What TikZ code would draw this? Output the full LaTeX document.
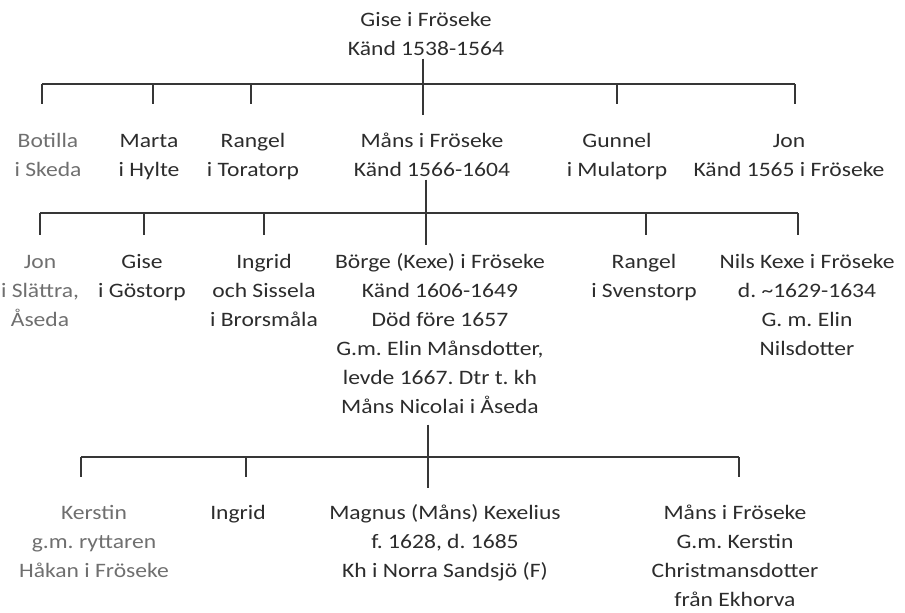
\documentclass[tikz,border=0pt]{standalone}
\usepackage{fontspec}
\setmainfont{Carlito}[FakeStretch=1.15]
\definecolor{ink}{HTML}{2C2C2C}
\definecolor{treeline}{HTML}{363636}
\begin{document}
\begin{tikzpicture}[x=1pt,y=-1pt]
	\tikzstyle{person} = [anchor=north, inner sep=0pt, align=center, font=\fontsize{20.5}{29}\selectfont\frenchspacing]
	\tikzstyle{inkfull} = [text=ink]
	\tikzstyle{inkdim}  = [text=ink!68]
	\tikzstyle{tree}    = [draw=treeline, line width=1.5pt]

	\useasboundingbox (0,0) rectangle (905,613);

	% Gise and his children
	\node[person, inkfull] (gise) at (426,5.7) {\strut Gise i Fröseke\\Känd 1538-1564};

	\foreach \name/\x/\dx/\sty/\txt in {botilla/48/42/inkdim/{Botilla\\i Skeda}, marta/149/153/inkfull/{Marta\\i Hylte}, rangel/253/251/inkfull/{Rangel\\i Toratorp}, gunnel/617/617/inkfull/{Gunnel\\i Mulatorp}, jon/789/795/inkfull/{Jon\\Känd 1565 i Fröseke}}
	{
		\node[person, \sty] (\name) at (\x,126.7) {\strut\txt};
		\coordinate (\name-top) at (\dx,84);
		\draw[tree, shorten >=22.7pt] (\name-top) -- (\name-top |- \name.north);
	}

	\node[person, inkfull] (mans) at (432,126.7) {\strut Måns i Fröseke\\Känd 1566-1604};
	\coordinate (mans-top) at (423,84);
	\draw[tree, shorten <=3pt, shorten >=11.7pt] (mans-top |- gise.south) -- (mans-top |- mans.north);
	\draw[tree] (botilla-top) -- (jon-top);

	% Måns and his children
	\foreach \name/\x/\dx/\sty/\txt in {jonslattra/40/40/inkdim/{Jon\\i Slättra,\\Åseda}, gisegostorp/142/144/inkfull/{Gise\\i Göstorp}, ingrid/264/264/inkfull/{Ingrid\\och Sissela\\i Brorsmåla}, rangelsv/644/646/inkfull/{Rangel\\i Svenstorp}, nils/807/798/inkfull/{Nils Kexe i Fröseke\\d. \textasciitilde1629-1634\\G. m. Elin\\Nilsdotter}}
	{
		\node[person, \sty] (\name) at (\x,247.7) {\strut\txt};
		\coordinate (\name-top) at (\dx,213);
		\draw[tree, shorten >=12.7pt] (\name-top) -- (\name-top |- \name.north);
	}

	\node[person, inkfull] (borge) at (440,247.7) {\strut Börge (Kexe) i Fröseke\\Känd 1606-1649\\Död före 1657\\G.m. Elin Månsdotter,\\levde 1667. Dtr t. kh\\Måns Nicolai i Åseda};
	\coordinate (borge-top) at (426,213);
	\draw[tree, shorten <=3pt, shorten >=2.7pt] (borge-top |- mans.south) -- (borge-top |- borge.north);
	\draw[tree] (jonslattra-top) -- (nils-top);

	% Börge and his children
	\foreach \name/\x/\dx/\sty/\txt in {kerstin/94/81/inkdim/{Kerstin\\g.m. ryttaren\\Håkan i Fröseke}, ingridb/238/246/inkfull/{Ingrid}, mansek/735/739/inkfull/{Måns i Fröseke\\G.m. Kerstin\\Christmansdotter\\från Ekhorva}}
	{
		\node[person, \sty] (\name) at (\x,498.7) {\strut\txt};
		\coordinate (\name-top) at (\dx,457);
		\draw[tree, shorten >=21.7pt] (\name-top) -- (\name-top |- \name.north);
	}

	\node[person, inkfull] (magnus) at (445,498.7) {\strut Magnus (Måns) Kexelius\\f. 1628, d. 1685\\Kh i Norra Sandsjö (F)};
	\coordinate (magnus-top) at (428,457);
	\draw[tree, shorten <=11pt, shorten >=10.7pt] (magnus-top |- borge.south) -- (magnus-top |- magnus.north);
	\draw[tree] (kerstin-top) -- (mansek-top);
\end{tikzpicture}
\end{document}
